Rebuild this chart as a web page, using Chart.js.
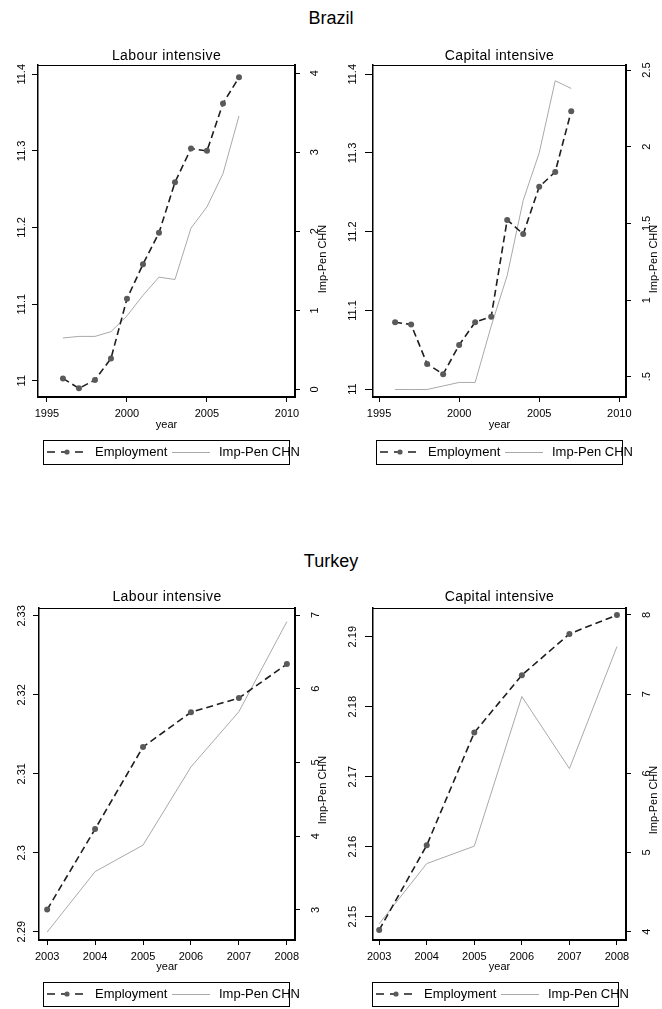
<!DOCTYPE html>
<html><head><meta charset="utf-8">
<script src="https://cdn.jsdelivr.net/npm/chart.js@4"></script>
<style>
html,body{margin:0;padding:0;background:#fff;}
body{width:662px;height:1009px;position:relative;overflow:hidden;font-family:"Liberation Sans",Arial,sans-serif;}
.ct{position:absolute;left:0;width:662px;text-align:center;font-size:18px;line-height:20px;color:#000;}
canvas{position:absolute;}
</style></head><body>
<div class="ct" style="top:8px">Brazil</div>
<div class="ct" style="top:551px">Turkey</div>
<canvas id="c1" width="331" height="430" style="left:0;top:40px"></canvas>
<canvas id="c2" width="331" height="430" style="left:331px;top:40px"></canvas>
<canvas id="c3" width="331" height="426" style="left:0;top:583px"></canvas>
<canvas id="c4" width="331" height="426" style="left:331px;top:583px"></canvas>
<script>
// ---------- data ----------
const seriesNames = ['Employment', 'Imp-Pen CHN'];
const panelTitles = ['Labour intensive', 'Capital intensive'];
const xTitle = 'year';

const brYears   = [1996, 1997, 1998, 1999, 2000, 2001, 2002, 2003, 2004, 2005, 2006, 2007];
const brLabEmp  = [11.003, 10.990, 11.001, 11.029, 11.107, 11.152, 11.193, 11.259, 11.303, 11.300, 11.362, 11.396];
const brLabImp  = [0.65, 0.67, 0.67, 0.73, 0.93, 1.19, 1.42, 1.39, 2.04, 2.31, 2.73, 3.46];
const brCapEmp  = [11.085, 11.082, 11.032, 11.019, 11.056, 11.085, 11.092, 11.215, 11.197, 11.257, 11.276, 11.353];
const brCapImp  = [0.417, 0.417, 0.417, 0.44, 0.463, 0.463, 0.83, 1.16, 1.65, 1.96, 2.43, 2.38];

const trYears   = [2003, 2004, 2005, 2006, 2007, 2008];
const trLabEmp  = [2.2928, 2.3030, 2.3134, 2.3178, 2.3196, 2.3239];
const trLabImp  = [2.70, 3.52, 3.88, 4.94, 5.69, 6.91];
const trCapEmp  = [2.1481, 2.1602, 2.1763, 2.1845, 2.1904, 2.1931];
const trCapImp  = [4.10, 4.86, 5.08, 6.97, 6.06, 7.60];

// tick labels
const brXTicks     = [1995, 2000, 2005, 2010];
const trXTicks     = [2003, 2004, 2005, 2006, 2007, 2008];
const brTicksL     = [11, 11.1, 11.2, 11.3, 11.4];
const brLabTicksR  = [0, 1, 2, 3, 4];
const brCapTicksR  = [0.5, 1, 1.5, 2, 2.5];
const trLabTicksL  = [2.29, 2.30, 2.31, 2.32, 2.33];
const trLabTicksR  = [3, 4, 5, 6, 7];
const trCapTicksL  = [2.15, 2.16, 2.17, 2.18, 2.19];
const trCapTicksR  = [4, 5, 6, 7, 8];

// ---------- drawing ----------
const FONT = '"Liberation Sans", Arial, sans-serif';
function fmt(v) { return String(+v.toFixed(4)).replace(/^0\./, '.'); }
function vtext(ctx, txt, x, y) {
  ctx.save(); ctx.translate(x, y); ctx.rotate(-Math.PI / 2);
  ctx.textAlign = 'center'; ctx.textBaseline = 'middle';
  ctx.fillText(txt, 0, 0); ctx.restore();
}

const stataPlugin = {
  id: 'stata',
  afterDraw(chart, args, o) {
    const ctx = chart.ctx, ca = chart.chartArea;
    const sx = chart.scales.x, sl = chart.scales.yL, sr = chart.scales.yR;
    const cx = (ca.left + ca.right) / 2;
    ctx.save();
    ctx.fillStyle = '#000'; ctx.strokeStyle = '#000';
    // top frame
    ctx.lineWidth = 1;
    ctx.beginPath(); ctx.moveTo(ca.left, ca.top + 0.5); ctx.lineTo(ca.right, ca.top + 0.5); ctx.stroke();
    // panel title
    ctx.font = '14px ' + FONT; ctx.textAlign = 'center'; ctx.textBaseline = 'middle';
    if ('letterSpacing' in ctx) ctx.letterSpacing = '0.4px';
    ctx.fillText(o.title, cx, o.titleY);
    if ('letterSpacing' in ctx) ctx.letterSpacing = '0px';
    // x tick labels and title
    ctx.font = '11px ' + FONT;
    sx.ticks.forEach(t => ctx.fillText(fmt(t.value), sx.getPixelForValue(t.value), o.xLabY));
    ctx.fillText(xTitle, cx, o.xTitleY);
    // y tick labels
    sl.ticks.forEach(t => vtext(ctx, fmt(t.value), ca.left - o.lOff, sl.getPixelForValue(t.value)));
    sr.ticks.forEach(t => vtext(ctx, fmt(t.value), ca.right + o.rOff, sr.getPixelForValue(t.value)));
    vtext(ctx, seriesNames[1], ca.right + o.rTitleOff, o.rTitleY);
    // legend
    const ds = chart.data.datasets;
    const bx = o.legX, by = o.legY, bw = 246, bh = 24, my = by + bh / 2;
    ctx.lineWidth = 1; ctx.strokeStyle = '#000';
    ctx.strokeRect(bx + 0.5, by + 0.5, bw, bh);
    ctx.strokeStyle = ds[0].borderColor; ctx.lineWidth = ds[0].borderWidth;
    ctx.setLineDash([8, 6]);
    ctx.beginPath(); ctx.moveTo(bx + 4, my); ctx.lineTo(bx + 43, my); ctx.stroke();
    ctx.setLineDash([]);
    ctx.fillStyle = ds[0].pointBackgroundColor;
    ctx.beginPath(); ctx.arc(bx + 24, my, 2.6, 0, Math.PI * 2); ctx.fill();
    ctx.strokeStyle = ds[1].borderColor; ctx.lineWidth = ds[1].borderWidth;
    ctx.beginPath(); ctx.moveTo(bx + 129, my + 0.5); ctx.lineTo(bx + 167, my + 0.5); ctx.stroke();
    ctx.fillStyle = '#000'; ctx.font = '13px ' + FONT; ctx.textAlign = 'left';
    ctx.fillText(ds[0].label, bx + 52, my);
    ctx.fillText(ds[1].label, bx + 176, my);
    ctx.restore();
  }
};

function makePanel(id, p) {
  const grid = { display: true, drawOnChartArea: false, drawTicks: true, color: '#000', lineWidth: 1 };
  new Chart(document.getElementById(id), {
    type: 'line',
    data: {
      datasets: [
        { label: seriesNames[0], data: p.years.map((x, i) => ({ x, y: p.emp[i] })), yAxisID: 'yL',
          borderColor: '#1e1e1e', borderWidth: 1.6, borderDash: [7, 4], tension: 0,
          pointRadius: 3, pointBackgroundColor: '#5a5a5a', pointBorderWidth: 0, fill: false },
        { label: seriesNames[1], data: p.years.map((x, i) => ({ x, y: p.imp[i] })), yAxisID: 'yR',
          borderColor: '#a9a9a9', borderWidth: 1, tension: 0, pointRadius: 0, fill: false }
      ]
    },
    options: {
      responsive: false, animation: false, devicePixelRatio: 1,
      layout: { padding: { top: p.padTop, left: 0, right: 0, bottom: 0 } },
      plugins: { legend: { display: false }, tooltip: { enabled: false }, title: { display: false },
        stata: p.deco },
      scales: {
        x: { type: 'linear', position: 'bottom', min: p.xr[0], max: p.xr[1],
          afterBuildTicks: s => { s.ticks = p.xt.map(v => ({ value: v })); },
          afterFit: s => { s.height = p.Xh; },
          grid: Object.assign({}, grid, { tickLength: 5 }), ticks: { display: false },
          border: { display: true, color: '#000', width: 2 } },
        yL: { type: 'linear', position: 'left', min: p.yl[0], max: p.yl[1],
          afterBuildTicks: s => { s.ticks = p.ylt.map(v => ({ value: v })); },
          afterFit: s => { s.width = p.Lw; },
          grid: Object.assign({}, grid, { tickLength: p.lTick }), ticks: { display: false },
          border: { display: true, color: '#000', width: 1.5 } },
        yR: { type: 'linear', position: 'right', min: p.yr[0], max: p.yr[1],
          afterBuildTicks: s => { s.ticks = p.yrt.map(v => ({ value: v })); },
          afterFit: s => { s.width = p.Rw; },
          grid: Object.assign({}, grid, { tickLength: 5 }), ticks: { display: false },
          border: { display: true, color: '#000', width: 2 } }
      }
    },
    plugins: [stataPlugin]
  });
}

makePanel('c1', { years: brYears, emp: brLabEmp, imp: brLabImp,
  xr: [1994.44, 2010.5], xt: brXTicks, yl: [10.9787, 11.4121], ylt: brTicksL, yr: [-0.097, 4.105], yrt: brLabTicksR,
  Lw: 38, Rw: 36, padTop: 25, Xh: 73, lTick: 6,
  deco: { title: panelTitles[0], titleY: 16, xLabY: 374, xTitleY: 385, lOff: 16, rOff: 20, rTitleOff: 28, rTitleY: 219, legX: 43, legY: 400 } });
makePanel('c2', { years: brYears, emp: brCapEmp, imp: brCapImp,
  xr: [1994.62, 2010.42], xt: brXTicks, yl: [10.990, 11.4118], ylt: brTicksL, yr: [0.368, 2.533], yrt: brCapTicksR,
  Lw: 42, Rw: 36, padTop: 25, Xh: 73, lTick: 8,
  deco: { title: panelTitles[1], titleY: 16, xLabY: 374, xTitleY: 385, lOff: 20, rOff: 21, rTitleOff: 28, rTitleY: 219, legX: 45, legY: 400 } });
makePanel('c3', { years: trYears, emp: trLabEmp, imp: trLabImp,
  xr: [2002.83, 2008.17], xt: trXTicks, yl: [2.28895, 2.331], ylt: trLabTicksL, yr: [2.593, 7.095], yrt: trLabTicksR,
  Lw: 39, Rw: 36, padTop: 25, Xh: 69, lTick: 6,
  deco: { title: panelTitles[0], titleY: 14, xLabY: 374, xTitleY: 384, lOff: 17, rOff: 21, rTitleOff: 28, rTitleY: 207, legX: 43, legY: 399 } });
makePanel('c4', { years: trYears, emp: trCapEmp, imp: trCapImp,
  xr: [2002.87, 2008.19], xt: trXTicks, yl: [2.14667, 2.1941], ylt: trCapTicksL, yr: [3.895, 8.088], yrt: trCapTicksR,
  Lw: 42, Rw: 36, padTop: 25, Xh: 69, lTick: 8,
  deco: { title: panelTitles[1], titleY: 14, xLabY: 374, xTitleY: 384, lOff: 20, rOff: 21, rTitleOff: 28, rTitleY: 217, legX: 41, legY: 399 } });
</script>
</body></html>
